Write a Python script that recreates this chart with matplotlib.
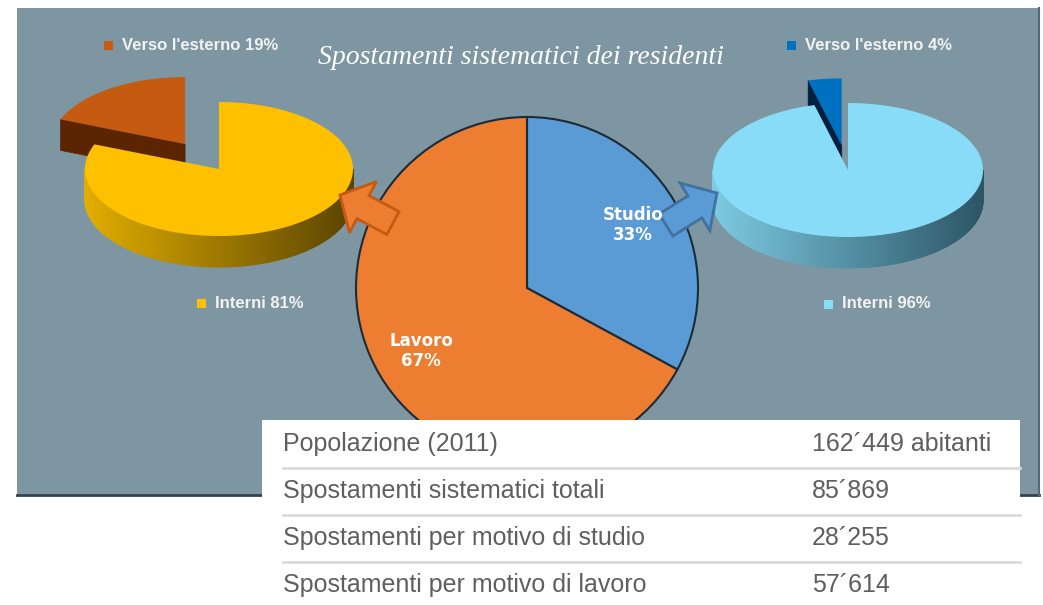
import numpy as np
import matplotlib
matplotlib.use('Agg')
import matplotlib.pyplot as plt
import matplotlib.colors as mcolors
from matplotlib.patches import Rectangle, Polygon, FancyArrow
from matplotlib.collections import PolyCollection

# --- data ---
motivi = ['Studio', 'Lavoro']
spost_motivo = [28255, 57614]

lav_nomi = ["Verso l'esterno", 'Interni']
lav_perc = [19, 81]
stu_nomi = ["Verso l'esterno", 'Interni']
stu_perc = [4, 96]

righe = ['Popolazione (2011)', 'Spostamenti sistematici totali',
         'Spostamenti per motivo di studio', 'Spostamenti per motivo di lavoro']
valori = [162449, 85869, 28255, 57614]
suffissi = [' abitanti', '', '', '']

W, H = 1043, 605


def sy(y):
    # screen y (top-down) -> data y
    return H - y


def mix(c1, c2, f):
    f = min(max(f, 0), 1)
    a = np.array(mcolors.to_rgb(c1))
    b = np.array(mcolors.to_rgb(c2))
    return tuple(a + (b - a) * f)


fig = plt.figure(figsize=(10.43, 6.05), dpi=100)
ax = fig.add_axes([0, 0, 1, 1])

# background panel
ax.add_patch(Rectangle((17, sy(495)), 1039 - 17, 495 - 8, fc='#7D96A2', ec='none', zorder=0))
ax.plot([17, 1039], [sy(495), sy(495)], color='#33434b', lw=2, zorder=1)
ax.plot([1039, 1039], [sy(8), sy(495)], color='#566a73', lw=1.5, zorder=1)


def pie3d(vals, top_cols, dark_cols, side_l, side_r, cx, cy, a, b, t, explode):
    fr = np.array(vals, dtype=float) / sum(vals)
    edges = 90 + 360 * np.concatenate([[0], np.cumsum(fr)])
    order = sorted(range(len(vals)),
                   key=lambda i: -np.sin(np.radians((edges[i] + edges[i + 1]) / 2)))
    for i in order:
        t1, t2 = edges[i], edges[i + 1]
        mid = np.radians((t1 + t2) / 2)
        ox = cx + explode[i] * a * np.cos(mid)
        oy = cy + explode[i] * b * np.sin(mid)
        th = np.radians(np.linspace(t1, t2, 400))
        px = ox + a * np.cos(th)
        py = oy + b * np.sin(th)
        # radial cut faces facing the viewer
        for ang, vis in ((t1, np.cos(np.radians(t1)) > 1e-9),
                         (t2, np.cos(np.radians(t2)) < -1e-9)):
            if vis:
                ex = ox + a * np.cos(np.radians(ang))
                ey = oy + b * np.sin(np.radians(ang))
                ax.add_patch(Polygon([(ox, oy), (ex, ey), (ex, ey - t), (ox, oy - t)],
                                     closed=True, fc=dark_cols[i], ec=dark_cols[i],
                                     lw=0.5, zorder=2))
        # outer side with horizontal gradient
        quads, cols = [], []
        for j in range(len(th) - 1):
            if np.sin((th[j] + th[j + 1]) / 2) < 0:
                quads.append([(px[j], py[j]), (px[j + 1], py[j + 1]),
                              (px[j + 1], py[j + 1] - t), (px[j], py[j] - t)])
                f = ((px[j] + px[j + 1]) / 2 - (cx - a)) / (2 * a)
                cols.append(mix(side_l[i], side_r[i], f))
        if quads:
            ax.add_collection(PolyCollection(quads, facecolors=cols, edgecolors=cols,
                                             linewidths=0.6, zorder=2))
        ax.add_patch(Polygon(np.column_stack([np.r_[ox, px], np.r_[oy, py]]),
                             closed=True, fc=top_cols[i], ec='none', zorder=2))


# left 3D pie (lavoro)
pie3d(lav_perc, ['#C55A11', '#FFC000'], ['#5A2500', '#5A2500'],
      ['#C55A11', '#E3AE00'], ['#5A2500', '#5A4400'],
      219, sy(169), 134, 67, 31, [0.45, 0])
# right 3D pie (studio)
pie3d(stu_perc, ['#0070C0', '#88DCF7'], ['#00203F', '#00203F'],
      ['#0070C0', '#7DCBE2'], ['#00203F', '#2C5566'],
      848, sy(170), 135, 67, 31, [0.37, 0])

# central pie
tot = sum(spost_motivo)
etich = [f'{m}\n{v / tot * 100:.0f}%' for m, v in zip(motivi, spost_motivo)]
wedges, texts = ax.pie(spost_motivo, labels=etich, startangle=90, counterclock=False,
                       center=(527, sy(288)), radius=171, frame=True,
                       colors=['#5B9BD5', '#ED7D31'], labeldistance=0.72,
                       wedgeprops=dict(edgecolor='#1d2b38', linewidth=1.5, zorder=3),
                       textprops=dict(color='white', fontsize=12, fontweight='bold',
                                      family='DejaVu Sans', linespacing=1.1, zorder=4.5))
for tx in texts:
    tx.set_ha('center')
    tx.set_va('center')
    tx.set_multialignment('center')

# block arrows
ax.add_patch(FancyArrow(393, sy(223), -53, 28, width=26, head_width=58, head_length=26,
                        length_includes_head=True, fc='#ED7D31', ec='#C55A11', lw=2, zorder=4))
ax.add_patch(FancyArrow(666, sy(225), 51, 32, width=26, head_width=56, head_length=26,
                        length_includes_head=True, fc='#5B9BD5', ec='#41719C', lw=2, zorder=4))

# legends
leg = [(lav_nomi[0], lav_perc[0], '#C55A11', 108, 45),
       (lav_nomi[1], lav_perc[1], '#FFC000', 201, 303),
       (stu_nomi[0], stu_perc[0], '#0070C0', 791, 45),
       (stu_nomi[1], stu_perc[1], '#88DCF7', 828, 304)]
for nome, p, c, x, y in leg:
    ax.add_patch(Rectangle((x - 4.5, sy(y) - 4.5), 9, 9, fc=c, ec='none', zorder=3))
    ax.text(x + 14, sy(y), f'{nome} {p}%', color='#F2F2F2', fontsize=12,
            fontweight='bold', family='Liberation Sans', ha='left', va='center', zorder=3)

# title
ax.text(521, sy(57), 'Spostamenti sistematici dei residenti', family='Liberation Serif',
        style='italic', fontsize=20, color='white', ha='center', va='center', zorder=3)

# table
ax.add_patch(Rectangle((262, 0), 1020 - 262, sy(420), fc='white', ec='none', zorder=5))
for ys in [468, 515, 562]:
    ax.plot([283, 1020], [sy(ys), sy(ys)], color='#dcdcdc', lw=2, zorder=6)
for k, (r, v, s) in enumerate(zip(righe, valori, suffissi)):
    yy = sy(444 + 47 * k)
    ax.text(283, yy, r, color='#5f5f5f', fontsize=18, family='Liberation Sans',
            ha='left', va='center', zorder=7)
    ax.text(812, yy, f'{v:,}'.replace(',', '\u00b4') + s, color='#5f5f5f', fontsize=18,
            family='Liberation Sans', ha='left', va='center', zorder=7)

ax.set_aspect('auto')
ax.set_xlim(0, W)
ax.set_ylim(0, H)
ax.axis('off')

fig.savefig('out.png', dpi=100, facecolor='white')
